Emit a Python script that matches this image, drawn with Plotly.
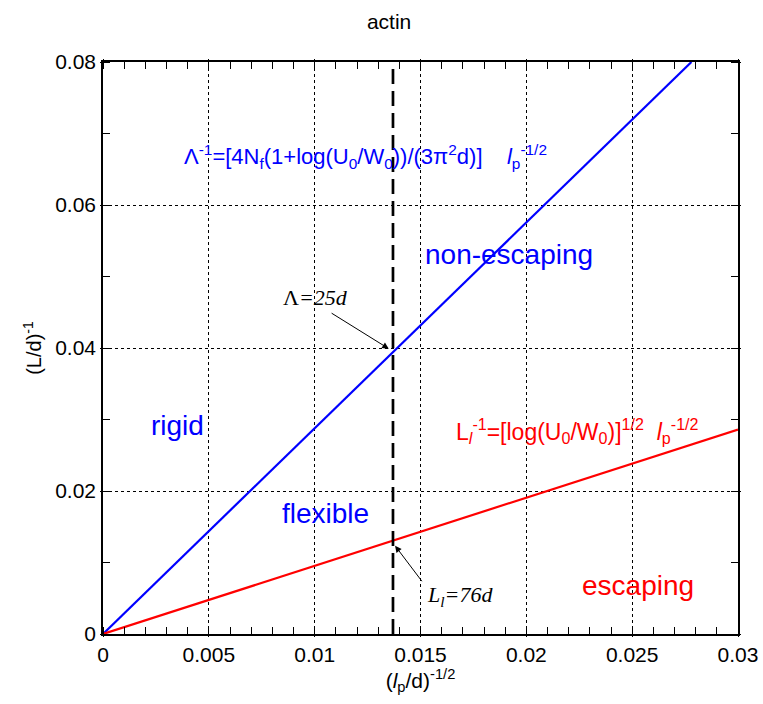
import plotly.graph_objects as go

# Phase-diagram boundaries for actin filaments
blue_x = [0.0, 0.0278]      # Lambda^-1 boundary (rigid / flexible)
blue_y = [0.0, 0.08]
red_x = [0.0, 0.03]         # L_l^-1 boundary (escaping / non-escaping)
red_y = [0.0, 0.0286]
actin_x = 0.0137            # actin persistence-length marker
dash_y = [0.0, 0.08]

# Region labels: text, x, y, colour
region_text = ["non-escaping", "rigid", "flexible", "escaping"]
region_x = [0.0192, 0.00351, 0.0105, 0.02527]
region_y = [0.0531, 0.0292, 0.0168, 0.00675]
region_col = ["blue", "blue", "blue", "red"]

# Axis ranges and tick spacing (labelled / fine)
x_range = [0, 0.03]
y_range = [0, 0.08]
x_label_step, x_fine_step = 0.005, 0.001
y_label_step, y_fine_step = 0.02, 0.01

SANS = "Liberation Sans, Arial, Helvetica, sans-serif"
SERIF = "Liberation Serif, Times New Roman, serif"

fig = go.Figure()
fig.add_trace(go.Scatter(x=blue_x, y=blue_y, mode="lines",
                         line=dict(color="#0000ff", width=2.2), showlegend=False))
fig.add_trace(go.Scatter(x=red_x, y=red_y, mode="lines",
                         line=dict(color="#ff0000", width=2.2), showlegend=False))
fig.add_trace(go.Scatter(x=[actin_x, actin_x], y=dash_y, mode="lines",
                         line=dict(color="black", width=2.7, dash="15px,7px"),
                         showlegend=False))

for t, x, y, c in zip(region_text, region_x, region_y, region_col):
    fig.add_annotation(x=x, y=y, text=t, showarrow=False,
                       font=dict(family=SANS, size=28, color=c))

# Boundary formulas
fig.add_annotation(
    x=0.00373, y=0.0668, xanchor="left", showarrow=False,
    text="Λ<sup>-1</sup>=[4N<sub>f</sub>(1+log(U<sub>0</sub>/W<sub>0</sub>))/(3π<sup>2</sup>d)]"
         "    <i>l</i><sub>p</sub><sup>-1/2</sup>",
    font=dict(family=SANS, size=22, color="#0000ff"))
fig.add_annotation(
    x=0.0166, y=0.0284, xanchor="left", showarrow=False,
    text="L<sub><i>l</i></sub><sup>-1</sup>=[log(U<sub>0</sub>/W<sub>0</sub>)]<sup>1/2</sup>"
         "  <i>l</i><sub>p</sub><sup>-1/2</sup>",
    font=dict(family=SANS, size=23, color="#ff0000"))

# Length-scale callouts with arrows
fig.add_annotation(x=0.01003, y=0.0471, showarrow=False, text="Λ<i>=25d</i>",
                   font=dict(family=SERIF, size=22, color="black"))
fig.add_annotation(x=0.0135, y=0.0399, ax=0.01073, ay=0.0450, axref="x", ayref="y",
                   text="", showarrow=True, arrowhead=2, arrowsize=1.3,
                   arrowwidth=1, arrowcolor="black")
fig.add_annotation(x=0.01687, y=0.00537, showarrow=False, text="<i>L<sub>l</sub>=76d</i>",
                   font=dict(family=SERIF, size=22, color="black"))
fig.add_annotation(x=0.0138, y=0.01234, ax=0.01512, ay=0.00717, axref="x", ayref="y",
                   text="", showarrow=True, arrowhead=2, arrowsize=1.3,
                   arrowwidth=1, arrowcolor="black")

fig.update_xaxes(
    range=x_range, tick0=0, dtick=x_label_step,
    ticks="outside", ticklen=1, tickwidth=1, tickcolor="black",
    minor=dict(dtick=x_fine_step, ticks="inside", ticklen=7, tickwidth=1,
               tickcolor="black", showgrid=False),
    showline=True, linecolor="black", linewidth=1.5, mirror="allticks",
    showgrid=True, gridcolor="black", gridwidth=1, griddash="dot",
    zeroline=False,
    tickfont=dict(family=SANS, size=21, color="black"),
    title=dict(text="(<i>l</i><sub>p</sub>/d)<sup>-1/2</sup>",
               font=dict(family=SANS, size=21, color="black"), standoff=4),
)
fig.update_yaxes(
    range=y_range, tick0=0, dtick=y_label_step,
    ticks="outside", ticklen=1, tickwidth=1, tickcolor="black",
    minor=dict(dtick=y_fine_step, ticks="inside", ticklen=7, tickwidth=1,
               tickcolor="black", showgrid=False),
    showline=True, linecolor="black", linewidth=1.5, mirror="allticks",
    showgrid=True, gridcolor="black", gridwidth=1, griddash="dot",
    zeroline=False,
    tickfont=dict(family=SANS, size=21, color="black"),
    title=dict(text="(L/d)<sup>-1</sup>",
               font=dict(family=SANS, size=20, color="black"), standoff=8),
)

fig.update_layout(
    template="none",
    width=763, height=704,
    margin=dict(l=103, r=25, t=62, b=70),
    plot_bgcolor="white", paper_bgcolor="white",
    title=dict(text="actin", x=0.51, xanchor="center", y=1 - 22 / 704,
               yanchor="middle", font=dict(family=SANS, size=21, color="black")),
)

fig.write_html("out.html")
